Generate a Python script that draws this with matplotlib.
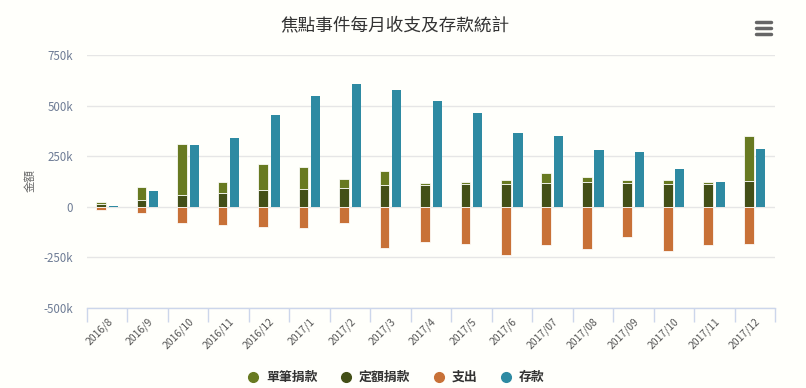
import matplotlib
matplotlib.use("Agg")
import matplotlib.pyplot as plt
import numpy as np
from matplotlib.lines import Line2D

plt.rcParams['font.family'] = ['Noto Sans CJK TC', 'DejaVu Sans']

categories = ["2016/8", "2016/9", "2016/10", "2016/11", "2016/12", "2017/1", "2017/2",
              "2017/3", "2017/4", "2017/5", "2017/6", "2017/07", "2017/08", "2017/09",
              "2017/10", "2017/11", "2017/12"]
single_donation = [12, 66, 252, 58, 126, 111, 46, 73, 13, 13, 23, 53, 28, 18, 23, 13, 222]
fixed_donation = [12, 33, 56, 66, 83, 88, 93, 106, 106, 111, 111, 116, 121, 116, 111, 111, 126]
expense = [-18, -30, -79, -89, -99, -104, -79, -204, -174, -184, -238, -189, -209, -149, -219, -189, -184]
deposit = [6, 80, 303, 338, 452, 546, 606, 576, 522, 462, 363, 348, 283, 273, 189, 124, 288]
yticks = [-500, -250, 0, 250, 500, 750]
ytick_labels = ["-500k", "-250k", "0", "250k", "500k", "750k"]
series_names = ["單筆捐款", "定額捐款", "支出", "存款"]

c_single = "#687a21"
c_fixed = "#434f17"
c_exp = "#c87137"
c_dep = "#2e8aa2"
bg = "#fffffb"
W, H = 806, 388

fig = plt.figure(figsize=(W/100, H/100), dpi=100, facecolor=bg)
ax = fig.add_axes([87/W, 1-308/H, (775-87)/W, (308-55)/H], facecolor=bg)

x = np.arange(len(categories))
w = 0.24
off = 0.15
sd = np.array(single_donation) * 1000
fd = np.array(fixed_donation) * 1000
ex = np.array(expense) * 1000
dp = np.array(deposit) * 1000

kw = dict(width=w, edgecolor="white", linewidth=0.55, zorder=3)
ax.bar(x - off, fd, color=c_fixed, **kw)
ax.bar(x - off, sd, bottom=fd, color=c_single, **kw)
ax.bar(x - off, ex, color=c_exp, **kw)
ax.bar(x + off, dp, width=w - 0.015, color=c_dep, linewidth=0, zorder=3)

ax.set_xlim(-0.5, len(categories) - 0.5)
ax.set_ylim(-500000, 750000)
ax.set_yticks([v * 1000 for v in yticks])
ax.set_yticklabels(ytick_labels)
ax.yaxis.grid(True, color="#e6e6e6", linewidth=1, zorder=0)
ax.tick_params(axis="y", length=0, labelsize=8.3, labelcolor="#6e7c95", pad=10)

ax.set_xticks(x)
ax.set_xticklabels(categories, rotation=45, ha="right", rotation_mode="anchor",
                   fontsize=7.5, color="#555555")
ax.tick_params(axis="x", length=0, pad=6)
ax.set_xticks(np.arange(-0.5, len(categories)), minor=True)
ax.tick_params(axis="x", which="minor", length=10, color="#ccd6eb", width=1)

for s in ["top", "right", "left"]:
    ax.spines[s].set_visible(False)
ax.spines["bottom"].set_color("#ccd6eb")
ax.spines["bottom"].set_linewidth(1)

fig.text(30/W, 1-181/H, "金額", rotation=90, ha="center", va="center",
         fontsize=8.3, color="#666666")

fig.text(395/W, 1-25/H, "焦點事件每月收支及存款統計", ha="center", va="center",
         fontsize=12.7, color="#333333")

# menu icon
for yy in [22, 28, 34]:
    fig.add_artist(Line2D([756/W, 771/W], [1-yy/H, 1-yy/H], color="#666666",
                          linewidth=2.5, solid_capstyle="round"))

# legend
leg_y = 1 - 377/H
marker_x = [253, 346, 439, 506]
for mx, name, c in zip(marker_x, series_names, [c_single, c_fixed, c_exp, c_dep]):
    fig.add_artist(Line2D([mx/W], [leg_y], marker="o", markersize=7, color=c, linestyle=""))
    fig.text((mx + 13)/W, leg_y, name, ha="left", va="center", fontsize=9.3,
             fontweight="bold", color="#333333")

fig.savefig("out.png", dpi=100, facecolor=bg)
